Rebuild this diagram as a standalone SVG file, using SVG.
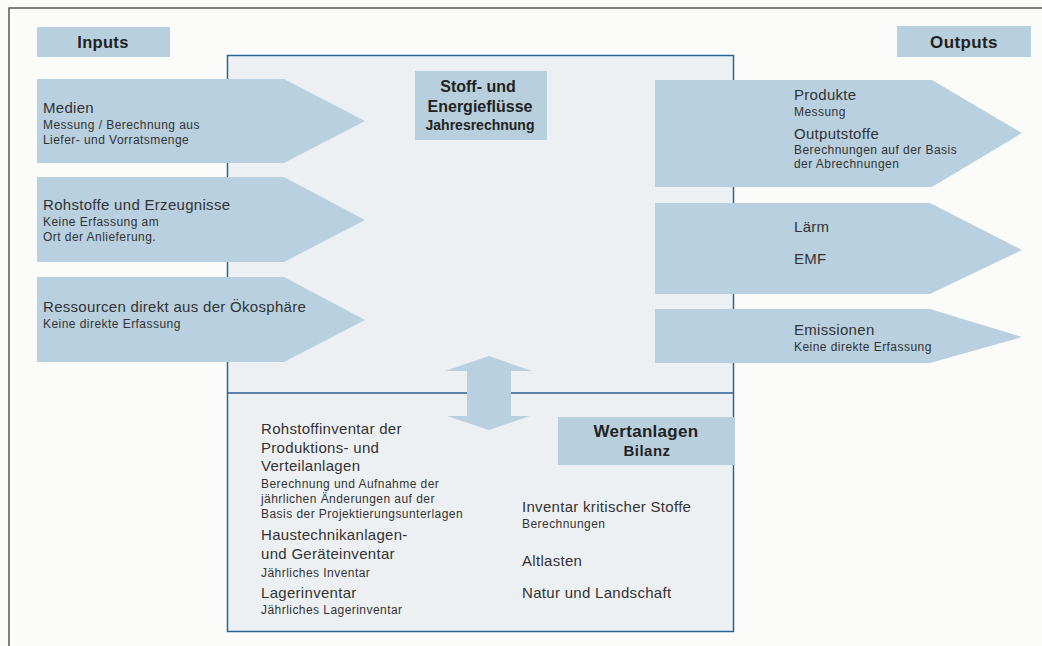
<svg xmlns="http://www.w3.org/2000/svg" width="1042" height="646" viewBox="0 0 1042 646">
<style>
.arrow{fill:#b8d0df}
.lbl{fill:#b8cfdd}
.t{font-family:"Liberation Sans",Arial,sans-serif;fill:#333}
.h{font-family:"Liberation Sans",Arial,sans-serif;fill:#222;font-weight:bold}
.big{font-size:15px;letter-spacing:0.3px}
.sm{font-size:12px;letter-spacing:0.45px}
.c{text-anchor:middle}
</style>
<rect x="0" y="0" width="1042" height="646" fill="#fbfbfa"/>
<g id="frame">
<polyline points="9,646 9,8 1042,8" fill="none" stroke="#555" stroke-width="1.5"/>
</g>
<g id="central-box">
<rect x="227.5" y="55.5" width="506" height="576" fill="#edf0f3" stroke="#2a6494" stroke-width="1.5"/>
<line x1="227.5" y1="393" x2="733.5" y2="393" stroke="#2a5a8c" stroke-width="1.5"/>
</g>
<g id="connectors">
<polygon class="arrow" points="489,356 532,371 511,371 511,416 530,416 489,430 447,416 467,416 467,371 445,371"/>
</g>
<g id="input-medien">
<polygon class="arrow" points="37,79 284,79 365,121 284,163 37,163"/>
<text class="t big" x="43" y="113">Medien</text>
<text class="t sm" x="43" y="129">Messung / Berechnung aus</text>
<text class="t sm" x="43" y="144">Liefer- und Vorratsmenge</text>
</g>
<g id="input-rohstoffe">
<polygon class="arrow" points="37,177 284,177 365,220 284,262 37,262"/>
<text class="t big" x="43" y="210">Rohstoffe und Erzeugnisse</text>
<text class="t sm" x="43" y="226">Keine Erfassung am</text>
<text class="t sm" x="43" y="241">Ort der Anlieferung.</text>
</g>
<g id="input-ressourcen">
<polygon class="arrow" points="37,277 284,277 365,320 284,362 37,362"/>
<text class="t big" x="43" y="312">Ressourcen direkt aus der Ökosphäre</text>
<text class="t sm" x="43" y="328">Keine direkte Erfassung</text>
</g>
<g id="output-produkte">
<polygon class="arrow" points="655,80 932,80 1022,133 932,187 655,187"/>
<text class="t big" x="794" y="100">Produkte</text>
<text class="t sm" x="794" y="116">Messung</text>
<text class="t big" x="794" y="139">Outputstoffe</text>
<text class="t sm" x="794" y="154">Berechnungen auf der Basis</text>
<text class="t sm" x="794" y="168">der Abrechnungen</text>
</g>
<g id="output-laerm">
<polygon class="arrow" points="655,203 930,203 1022,250 930,294 655,294"/>
<text class="t big" x="794" y="232">Lärm</text>
<text class="t big" x="794" y="264">EMF</text>
</g>
<g id="output-emissionen">
<polygon class="arrow" points="655,309 930,309 1022,337 930,363 655,363"/>
<text class="t big" x="794" y="335">Emissionen</text>
<text class="t sm" x="794" y="351">Keine direkte Erfassung</text>
</g>
<g id="label-inputs">
<rect class="lbl" x="37" y="27" width="133" height="30"/>
<text class="h c" x="103" y="48" font-size="16.5" letter-spacing="0.3">Inputs</text>
</g>
<g id="label-outputs">
<rect class="lbl" x="897" y="26" width="134" height="31"/>
<text class="h c" x="964" y="48" font-size="17" letter-spacing="0.4">Outputs</text>
</g>
<g id="label-stoff">
<rect class="lbl" x="415" y="71" width="132" height="69"/>
<text class="h c" x="478" y="92" font-size="16">Stoff- und</text>
<text class="h c" x="480" y="112" font-size="16">Energieflüsse</text>
<text class="h c" x="480" y="130" font-size="14">Jahresrechnung</text>
</g>
<g id="label-wertanlagen">
<rect class="lbl" x="558" y="417" width="177" height="48"/>
<text class="h c" x="646" y="437" font-size="17" letter-spacing="0.3">Wertanlagen</text>
<text class="h c" x="647" y="456" font-size="15" letter-spacing="0.5">Bilanz</text>
</g>
<g id="inventar-left">
<text class="t big" x="261" y="434">Rohstoffinventar der</text>
<text class="t big" x="261" y="453">Produktions- und</text>
<text class="t big" x="261" y="471">Verteilanlagen</text>
<text class="t sm" x="261" y="488">Berechnung und Aufnahme der</text>
<text class="t sm" x="261" y="503">jährlichen Änderungen auf der</text>
<text class="t sm" x="261" y="518">Basis der Projektierungsunterlagen</text>
<text class="t big" x="261" y="540">Haustechnikanlagen-</text>
<text class="t big" x="261" y="559">und Geräteinventar</text>
<text class="t sm" x="261" y="577">Jährliches Inventar</text>
<text class="t big" x="261" y="598">Lagerinventar</text>
<text class="t sm" x="261" y="614">Jährliches Lagerinventar</text>
</g>
<g id="inventar-right">
<text class="t big" x="522" y="512">Inventar kritischer Stoffe</text>
<text class="t sm" x="522" y="528">Berechnungen</text>
<text class="t big" x="522" y="566">Altlasten</text>
<text class="t big" x="522" y="598">Natur und Landschaft</text>
</g>
</svg>
